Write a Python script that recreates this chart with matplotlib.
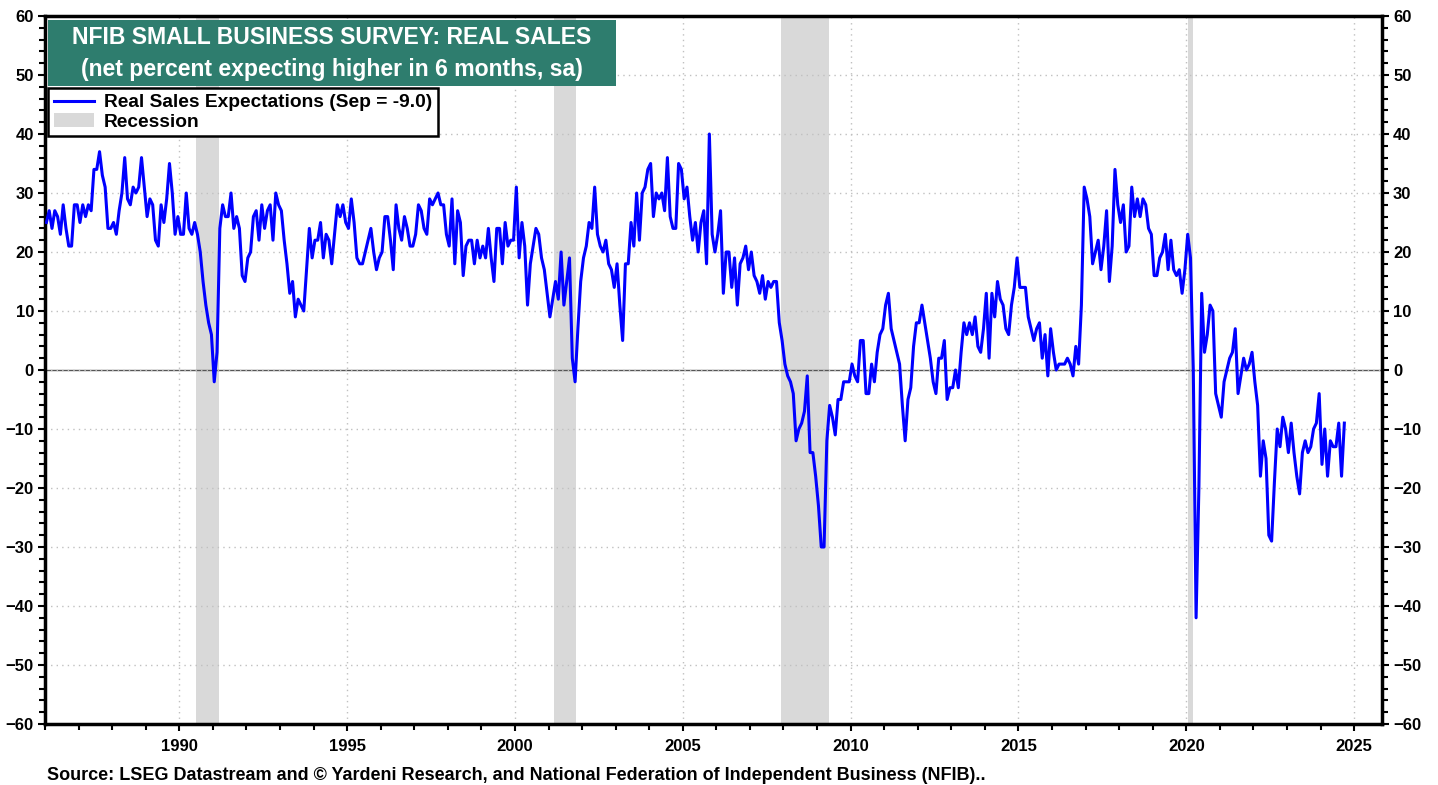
import numpy as np
import matplotlib.pyplot as plt
from matplotlib.patches import Rectangle, Patch
from matplotlib.lines import Line2D
from matplotlib.ticker import MultipleLocator

plt.rcParams['font.family'] = ['Liberation Sans', 'DejaVu Sans']
plt.rcParams['font.weight'] = 'bold'

# monthly values, net percent expecting higher real sales (Jan 1986 - Sep 2024)
y1986 = [25, 27, 24, 27, 26, 23, 28, 24, 21, 21, 28, 28]
y1987 = [25, 28, 26, 28, 27, 34, 34, 37, 33, 31, 24, 24]
y1988 = [25, 23, 27, 30, 36, 29, 28, 31, 30, 31, 36, 31]
y1989 = [26, 29, 28, 22, 21, 28, 25, 29, 35, 30, 23, 26]
y1990 = [23, 23, 30, 24, 23, 25, 23, 20, 15, 11, 8, 6]
y1991 = [-2, 3, 24, 28, 26, 26, 30, 24, 26, 24, 16, 15]
y1992 = [19, 20, 26, 27, 22, 28, 24, 27, 28, 22, 30, 28]
y1993 = [27, 22, 18, 13, 15, 9, 12, 11, 10, 17, 24, 19]
y1994 = [22, 22, 25, 19, 23, 22, 18, 23, 28, 26, 28, 25]
y1995 = [24, 29, 25, 19, 18, 18, 20, 22, 24, 20, 17, 19]
y1996 = [20, 26, 26, 22, 17, 28, 24, 22, 26, 24, 21, 21]
y1997 = [23, 28, 27, 24, 23, 29, 28, 29, 30, 28, 28, 23]
y1998 = [21, 29, 18, 27, 25, 16, 21, 22, 22, 18, 22, 19]
y1999 = [21, 19, 24, 19, 15, 24, 24, 18, 25, 21, 22, 22]
y2000 = [31, 19, 25, 21, 11, 18, 21, 24, 23, 19, 17, 13]
y2001 = [9, 12, 15, 12, 20, 11, 15, 19, 2, -2, 7, 15]
y2002 = [19, 21, 25, 24, 31, 23, 21, 20, 22, 18, 17, 14]
y2003 = [18, 11, 5, 18, 18, 25, 21, 30, 22, 30, 31, 34]
y2004 = [35, 26, 30, 29, 30, 27, 36, 26, 24, 24, 35, 34]
y2005 = [29, 31, 26, 22, 25, 20, 25, 27, 18, 40, 23, 20]
y2006 = [23, 27, 13, 20, 20, 14, 19, 11, 18, 19, 21, 17]
y2007 = [20, 16, 15, 13, 16, 12, 15, 14, 15, 15, 8, 5]
y2008 = [1, -1, -2, -4, -12, -10, -9, -7, -1, -14, -14, -18]
y2009 = [-23, -30, -30, -12, -6, -8, -11, -5, -5, -2, -2, -2]
y2010 = [1, -1, -2, 5, 5, -4, -4, 1, -2, 3, 6, 7]
y2011 = [11, 13, 7, 5, 3, 1, -6, -12, -5, -3, 4, 8]
y2012 = [8, 11, 8, 5, 2, -2, -4, 2, 2, 5, -5, -3]
y2013 = [-3, 0, -3, 3, 8, 6, 8, 6, 9, 4, 3, 7]
y2014 = [13, 2, 13, 9, 15, 12, 11, 7, 6, 11, 14, 19]
y2015 = [14, 14, 14, 9, 7, 5, 7, 8, 2, 6, -1, 7]
y2016 = [3, 0, 1, 1, 1, 2, 1, -1, 4, 1, 11, 31]
y2017 = [29, 26, 18, 20, 22, 17, 21, 27, 15, 21, 34, 28]
y2018 = [25, 28, 20, 21, 31, 26, 29, 26, 29, 28, 24, 23]
y2019 = [16, 16, 19, 20, 23, 17, 22, 17, 16, 17, 13, 17]
y2020 = [23, 19, 0, -42, -20, 13, 3, 6, 11, 10, -4, -6]
y2021 = [-8, -2, 0, 2, 3, 7, -4, -1, 2, 0, 1, 3]
y2022 = [-2, -6, -18, -12, -15, -28, -29, -19, -10, -13, -8, -10]
y2023 = [-14, -9, -14, -18, -21, -14, -12, -14, -13, -10, -9, -4]
y2024 = [-16, -10, -18, -12, -13, -13, -9, -18, -9]

sales = np.array(
    y1986 + y1987 + y1988 + y1989 + y1990 + y1991 + y1992 + y1993 + y1994 + y1995
    + y1996 + y1997 + y1998 + y1999 + y2000 + y2001 + y2002 + y2003 + y2004 + y2005
    + y2006 + y2007 + y2008 + y2009 + y2010 + y2011 + y2012 + y2013 + y2014 + y2015
    + y2016 + y2017 + y2018 + y2019 + y2020 + y2021 + y2022 + y2023 + y2024,
    dtype=float)
start_year = 1986

# recession periods (decimal years)
recessions = [(1990.5, 1991.17), (2001.17, 2001.83), (2007.92, 2009.37), (2020.06, 2020.21)]

title_lines = ["NFIB SMALL BUSINESS SURVEY: REAL SALES",
               "(net percent expecting higher in 6 months, sa)"]
source = ("Source: LSEG Datastream and \u00a9 Yardeni Research, and National "
          "Federation of Independent Business (NFIB)..")

# mid-month positions
t = start_year + (np.arange(len(sales)) + 0.5) / 12

W, H = 1438, 785
fig = plt.figure(figsize=(W / 100, H / 100), dpi=100)
ax = fig.add_axes([45 / W, 1 - 724 / H, 1337 / W, 708 / H])

for s, e in recessions:
    ax.axvspan(s, e, color='#d9d9d9', lw=0, zorder=0)
ax.axhline(0, color='#555555', lw=1, zorder=1)
ax.plot(t, sales, color='#0000ff', lw=2.2, zorder=3)

ax.set_xlim(1986.0, 2025.83)
ax.set_ylim(-60, 60)
ax.xaxis.set_major_locator(MultipleLocator(5))
ax.xaxis.set_minor_locator(MultipleLocator(1))
ax.yaxis.set_major_locator(MultipleLocator(10))
ax.yaxis.set_minor_locator(MultipleLocator(2))

ax.grid(which='major', ls=(0, (1, 3)), color='#c0c0c0', lw=1)
ax.tick_params(which='both', direction='out', width=1.5, colors='black', labelsize=12)
ax.tick_params(which='major', length=5)
ax.tick_params(which='minor', length=4)
ax.tick_params(axis='y', which='both', left=True, right=True, labelleft=True, labelright=True, pad=3)
ax.tick_params(axis='x', pad=6)
for sp in ax.spines.values():
    sp.set_linewidth(2.5)

# title box
ax.add_patch(Rectangle((0.0022, 0.901), 0.425, 0.0935, transform=ax.transAxes,
                       facecolor='#2e7d6e', edgecolor='none', zorder=5))
ax.text(0.2147, 0.9703, title_lines[0], transform=ax.transAxes, color='white',
        fontsize=16.6, ha='center', va='center', zorder=6)
ax.text(0.2147, 0.925, title_lines[1], transform=ax.transAxes, color='white',
        fontsize=16.6, ha='center', va='center', zorder=6)

handles = [Line2D([0], [0], color='#0000ff', lw=2.2),
           Patch(facecolor='#d9d9d9', edgecolor='none')]
labels = ["Real Sales Expectations (Sep = -9.0)", "Recession"]
leg = ax.legend(handles, labels, loc='upper left', bbox_to_anchor=(0.0022, 0.898),
                borderaxespad=0, fancybox=False, edgecolor='black', framealpha=1,
                prop={'size': 13.8, 'weight': 'bold'}, handlelength=2.1,
                labelspacing=0.1, borderpad=0.3, handletextpad=0.5)
leg.get_frame().set_linewidth(1.8)
leg.set_zorder(6)

fig.text(47 / W, 1 - 775 / H, source, fontsize=13, ha='left', va='center')

fig.savefig('out.png', dpi=100)
